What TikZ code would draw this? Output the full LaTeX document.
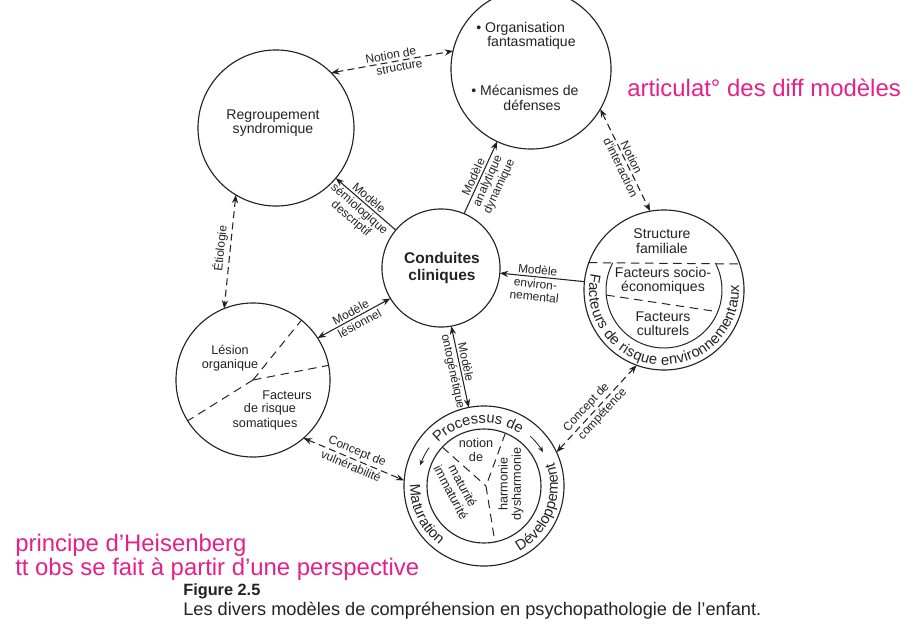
\documentclass[tikz,border=0pt]{standalone}
\usepackage{fontspec}
\setmainfont{Liberation Sans}
\usetikzlibrary{arrows.meta, decorations.text}
\definecolor{ink}{HTML}{232323}
\definecolor{pinkc}{RGB}{228,32,138}
\begin{document}
\begin{tikzpicture}[x=0.025cm, y=0.025cm,
  >={Stealth[length=6pt,width=4.5pt,inset=2pt]},
  circ/.style={circle, draw=ink, line width=0.8pt, inner sep=0pt, outer sep=0pt},
  lbl/.style={font=\fontsize{8.5}{9}\selectfont, text=ink, inner sep=0pt, align=center, sloped},
  ctext/.style={font=\fontsize{10}{10.2}\selectfont, text=ink, inner sep=0pt, align=center},
  stext/.style={font=\fontsize{9}{9.5}\selectfont, text=ink, inner sep=0pt, align=center},
  conn/.style={draw=ink, line width=0.75pt},
  dconn/.style={conn, dash pattern=on 5pt off 3pt},
  dline/.style={draw=ink, line width=0.7pt, dash pattern=on 6pt off 4pt},
  ringarrow/.style={draw=ink, line width=0.6pt, -{Stealth[length=4pt,width=3.5pt,inset=1.5pt]}},
  pinktxt/.style={font=\fontsize{17}{20}\selectfont, text=pinkc, inner sep=0pt, anchor=west},
]
\useasboundingbox (0,0) rectangle (913,-632);
\clip (0,0) rectangle (913,-632);
\fill[white] (0,0) rectangle (913,-632);

% ---------- circles ----------
\node[circ, minimum size=4cm]    (top)   at (531,-69)  {};
\node[circ, minimum size=3.9cm]  (reg)   at (276,-128) {};
\node[circ, minimum size=2.95cm] (con)   at (441,-268) {};
\node[circ, minimum size=4cm]    (env)   at (664,-290) {};
\node[circ, minimum size=3.85cm] (les)   at (253,-380) {};
\node[circ, minimum size=4cm]    (dev)   at (484,-486) {};
\node[circ, minimum size=2.85cm] (devin) at (484,-486) {};

% ---------- texts in circles ----------
\node[ctext, anchor=west] (t1) at (476,-29) {• Organisation};
\node[ctext, anchor=west] (t2) at (487,-43) {fantasmatique};
\node[ctext, anchor=west] (t3) at (471,-90) {• Mécanismes de};
\node[ctext] (t4) at (532,-105) {défenses};

\node[ctext] (r1) at (273,-123) {Regroupement\\syndromique};

\node[font=\fontsize{11}{12.2}\selectfont\bfseries, text=ink, inner sep=0pt, align=center] (c1) at (442,-268) {Conduites\\cliniques};

\node[ctext] (e1) at (662,-241) {Structure\\familiale};
\node[ctext] (e2) at (663,-281) {Facteurs socio-\\économiques};
\node[ctext] (e3) at (663,-324) {Facteurs\\culturels};

\node[stext] (l1) at (230,-358) {Lésion\\organique};
\node[stext] (l2) at (287,-395) {Facteurs};
\node[stext] (l3) at (270,-409) {de risque};
\node[stext] (l4) at (265,-424) {somatiques};

\node[stext, font=\fontsize{9}{10}\selectfont] (d1) at (476,-450) {notion\\de};
\node[stext, rotate=-62] (d2) at (457,-489) {maturité\\immaturité};
\node[stext, rotate=90] (d3) at (511,-484) {harmonie\\dysharmonie};

% ---------- inner divisions ----------
\draw[dline] (env.160.3) -- (env.19.7);
\draw[ink, line width=0.7pt] ([shift={(152.3:58)}]env.center) arc[start angle=152.3, end angle=387.7, radius=58];
\coordinate (ea) at ([shift={(185:58)}]env.center);
\coordinate (eb) at ([shift={(338:58)}]env.center);
\draw[dline] (ea) -- (eb);

\draw[dline] (les.center) -- (les.51);
\draw[dline] (les.center) -- (les.11);
\draw[dline] (les.center) -- (les.212);

\coordinate (dj) at (486,-486);
\draw[dline] (devin.137) -- (dj);
\draw[dline] (devin.68) -- (dj) -- (devin.281);

% ---------- ring texts ----------
\path[decorate, decoration={text along path, text color=ink, text align={fit to path},
  text={|\fontsize{10.5}{12}\selectfont|Facteurs de risque environnementaux}}]
  ([shift={(167:75)}]env.center) arc[start angle=167, end angle=364, radius=75];
\path[decorate, decoration={text along path, text color=ink, text align=center,
  text={|\fontsize{10.5}{12}\selectfont|Processus de}}]
  ([shift={(140:63)}]dev.center) arc[start angle=140, end angle=52, radius=63];
\path[decorate, decoration={text along path, text color=ink, text align=center,
  text={|\fontsize{10.5}{12}\selectfont|Maturation}}]
  ([shift={(171:74)}]dev.center) arc[start angle=171, end angle=241, radius=74];
\path[decorate, decoration={text along path, text color=ink, text align=center,
  text={|\fontsize{10.5}{12}\selectfont|Développement}}]
  ([shift={(294:74)}]dev.center) arc[start angle=294, end angle=383, radius=74];
\draw[ringarrow] ([shift={(145:67)}]dev.center) arc[start angle=145, end angle=162, radius=67];
\draw[ringarrow] ([shift={(47:68)}]dev.center) arc[start angle=47, end angle=30, radius=68];

% ---------- connectors with labels ----------
\draw[dconn,<->] (reg.45) --
  node[lbl, above=1.5pt, pos=0.5] (k1a) {Notion de}
  node[lbl, below=1.5pt, pos=0.55] (k1b) {structure} (top.167);
\draw[conn,->] (con.67) --
  node[lbl, above=1.5pt, pos=0.47] (k2a) {Modèle}
  node[lbl, below=1.5pt, pos=0.5] (k2b) {analytique\\dynamique} (top.245);
\draw[conn,->] (con.140) --
  node[lbl, above=1.5pt, pos=0.52] (k3a) {Modèle}
  node[lbl, below=1.5pt, pos=0.52] (k3b) {sémiologique\\descriptif} (reg.320);
\draw[dconn,<->] (top.330) --
  node[lbl, above=1.5pt, pos=0.5] (k4a) {Notion}
  node[lbl, below=1.5pt, pos=0.54] (k4b) {d'interaction} (env.100);
\draw[conn,->] (env.174) --
  node[lbl, above=1.5pt, pos=0.56] (k5a) {Modèle}
  node[lbl, below=1.5pt, pos=0.57] (k5b) {environ-\\nemental} (con.-5);
\draw[conn,<->] (les.33) --
  node[lbl, above=1.5pt, pos=0.5] (k6a) {Modèle}
  node[lbl, below=1.5pt, pos=0.53] (k6b) {lésionnel} (con.211);
\draw[dconn,<->] (reg.239) --
  node[lbl, above=2pt, pos=0.48] (k7) {Étiologie} (les.112);
\draw[conn,<->] (con.280) --
  node[lbl, above=1.5pt, pos=0.46] (k8a) {Modèle}
  node[lbl, below=1.5pt, pos=0.54] (k8b) {ontogénétique} (dev.101);
\draw[dconn,<->] (les.311) --
  node[lbl, above=1.5pt, pos=0.5] (k9a) {Concept de}
  node[lbl, below=1.5pt, pos=0.5] (k9b) {vulnérabilité} (dev.176);
\draw[dconn,<->] (dev.25) --
  node[lbl, above=1.5pt, pos=0.45] (k10a) {Concept de}
  node[lbl, below=1.5pt, pos=0.5] (k10b) {compétence} (env.250);

% ---------- annotations ----------
\node[pinktxt] (p1) at (627,-88) {articulat° des diff modèles};
\node[pinktxt] (p2) at (15,-545) {principe d'Heisenberg};
\node[pinktxt] (p3) at (15,-569) {tt obs se fait à partir d'une perspective};

\node[font=\fontsize{11.6}{13}\selectfont\bfseries, text=ink, inner sep=0pt, anchor=west] (cap1) at (183,-591) {Figure 2.5};
\node[font=\fontsize{12.95}{14}\selectfont, text=ink, inner sep=0pt, anchor=west] (cap2) at (183,-611) {Les divers modèles de compréhension en psychopathologie de l'enfant.};
\end{tikzpicture}
\end{document}
